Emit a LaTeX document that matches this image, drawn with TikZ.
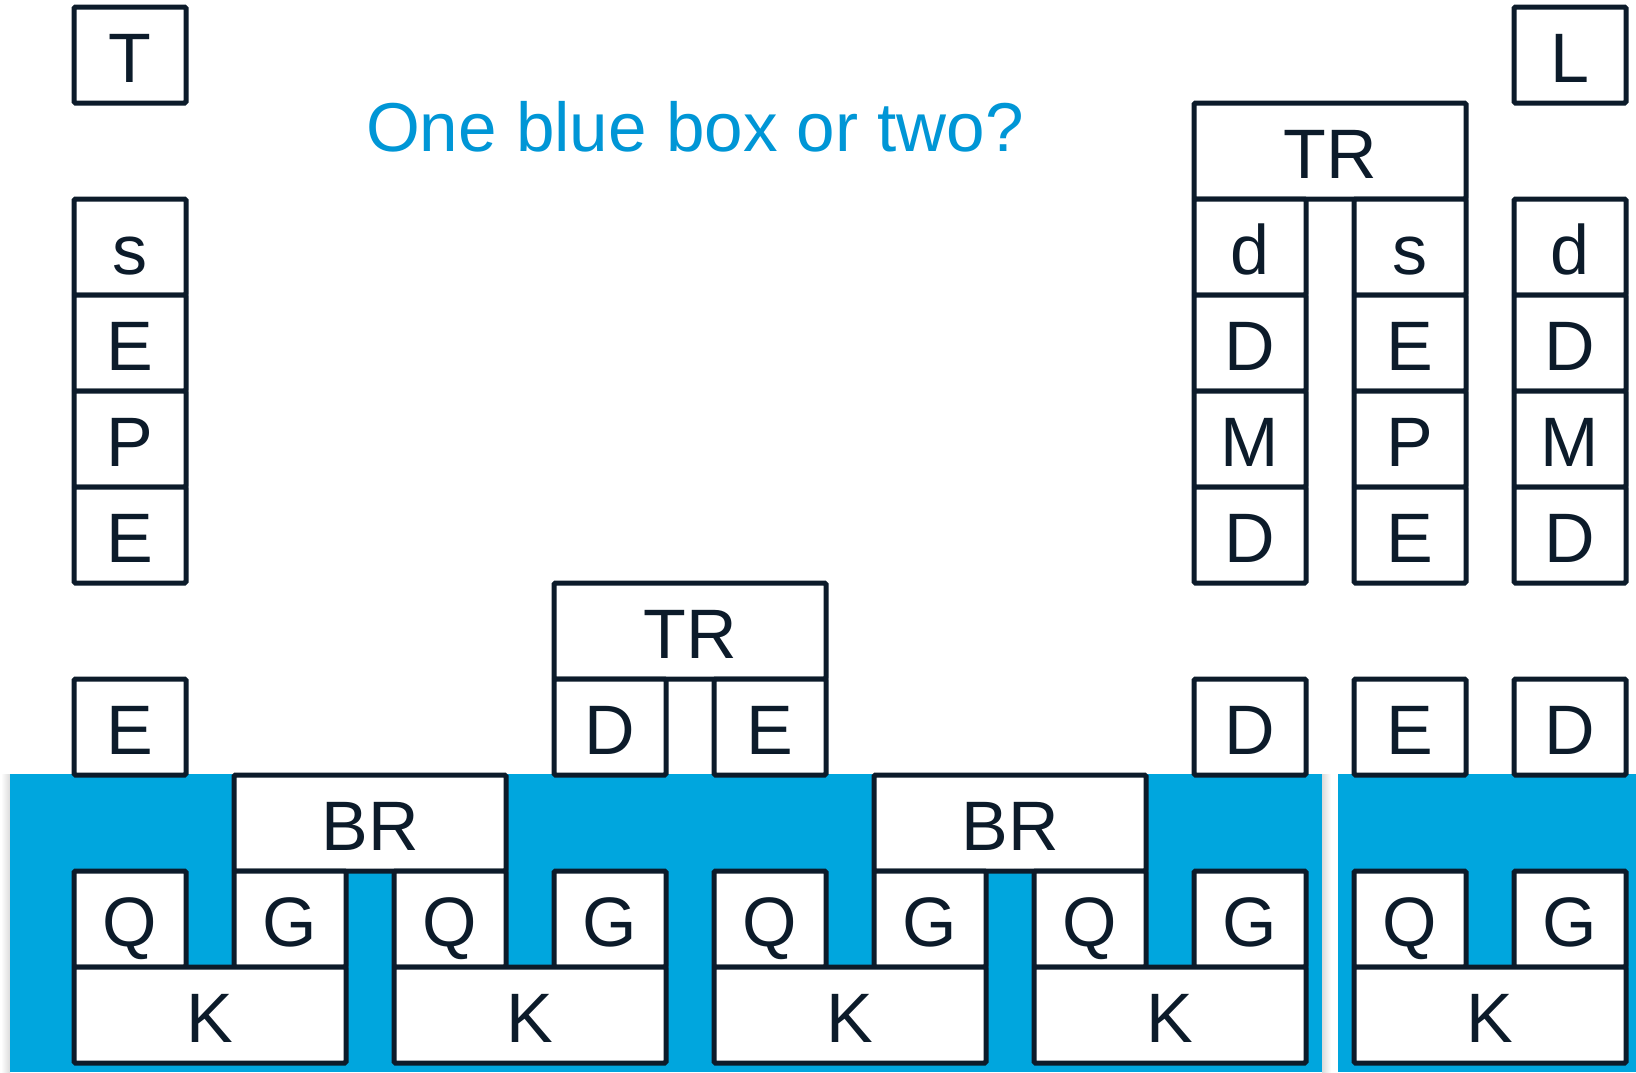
\documentclass[tikz,border=0pt]{standalone}
\usepackage{fontspec}
\setmainfont{Liberation Sans}
\definecolor{ink}{HTML}{0C1B2A}
\definecolor{sky}{HTML}{00A6DE}
\definecolor{titleblue}{HTML}{0096D6}
\begin{document}
\begin{tikzpicture}[x=1pt,y=-1pt,
  cell/.style={draw=ink, fill=white, line width=5pt, rounded corners=1.5pt,
    inner sep=0pt, minimum height=96pt, text height=54pt, text depth=0pt,
    font=\fontsize{70}{70}\selectfont, text=ink},
  single/.style={cell, minimum width=112pt},
  double/.style={cell, minimum width=272pt},
  band/.style={fill=sky, draw=none},
]
\useasboundingbox (0,0) rectangle (1636,1072);
\fill[white] (0,0) rectangle (1636,1072);

% soft shadow at the sides of the left band
\shade[left color=white, right color=black!14] (1,774) rectangle (10,1072);
\shade[left color=black!14, right color=white] (1322,774) rectangle (1331,1072);
% blue bands
\fill[band] (10,774) rectangle (1322,1072);
\fill[band] (1338,774) rectangle (1636,1072);

% title
\node[font=\fontsize{69.2}{70}\selectfont, text=titleblue, anchor=base, inner sep=0pt]
  (title) at (695,151) {One blue box or two?};

% left column
\node[single] (t)  at (130,55)  {T};
\node[single] (s1) at (130,247) {s};
\node[single] (e1) at (130,343) {E};
\node[single] (p1) at (130,439) {P};
\node[single] (e2) at (130,535) {E};
\node[single] (e3) at (130,727) {E};

% right stacks
\node[single] (l)  at (1570,55) {L};
\node[double] (trA) at (1330,151) {TR};
\node[single] (dA) at (1250,247) {d};
\node[single] (DA) at (1250,343) {D};
\node[single] (MA) at (1250,439) {M};
\node[single] (DB) at (1250,535) {D};
\node[single] (sB) at (1410,247) {s};
\node[single] (EB) at (1410,343) {E};
\node[single] (PB) at (1410,439) {P};
\node[single] (EC) at (1410,535) {E};
\node[single] (dC) at (1570,247) {d};
\node[single] (DC) at (1570,343) {D};
\node[single] (MC) at (1570,439) {M};
\node[single] (DD) at (1570,535) {D};

% middle stack
\node[double] (trB) at (690,631) {TR};
\node[single] (dM) at (610,727) {D};
\node[single] (eM) at (770,727) {E};

% singles just above the band
\node[single] (d8) at (1250,727) {D};
\node[single] (e9) at (1410,727) {E};
\node[single] (d10) at (1570,727) {D};

% bridges
\node[double] (brA) at (370,823) {BR};
\node[double] (brB) at (1010,823) {BR};

% Q/G row
\node[single] (q1) at (130,919)  {Q};
\node[single] (g2) at (290,919)  {G};
\node[single] (q3) at (450,919)  {Q};
\node[single] (g4) at (610,919)  {G};
\node[single] (q5) at (770,919)  {Q};
\node[single] (g6) at (930,919)  {G};
\node[single] (q7) at (1090,919) {Q};
\node[single] (g8) at (1250,919) {G};
\node[single] (q9) at (1410,919) {Q};
\node[single] (g10) at (1570,919) {G};

% K row
\node[double] (k1) at (210,1015)  {K};
\node[double] (k2) at (530,1015)  {K};
\node[double] (k3) at (850,1015)  {K};
\node[double] (k4) at (1170,1015) {K};
\node[double] (k5) at (1490,1015) {K};
\end{tikzpicture}
\end{document}
